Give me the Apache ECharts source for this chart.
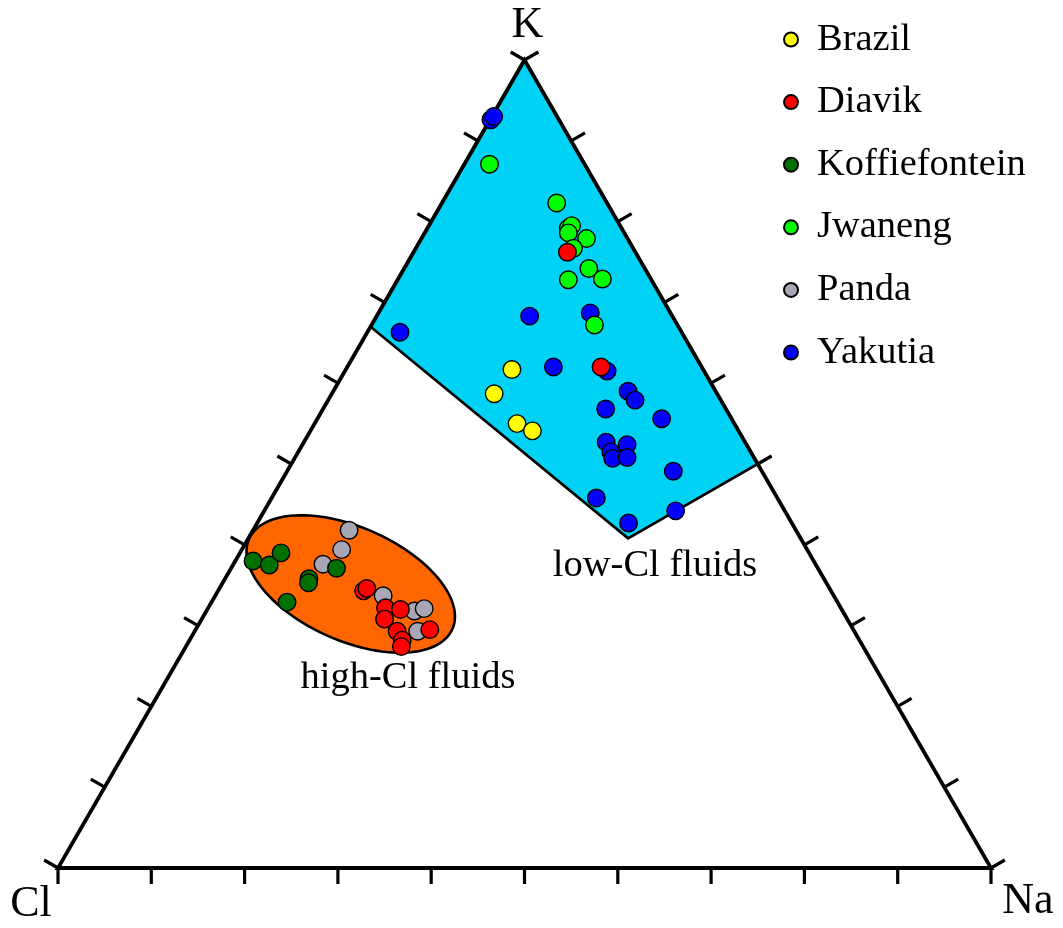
<!DOCTYPE html>
<html>
<head>
<meta charset="utf-8">
<script src="https://cdn.jsdelivr.net/npm/echarts@6/dist/echarts.min.js"></script>
<style>
  html, body { margin: 0; padding: 0; background: #ffffff; }
  #chart { width: 1063px; height: 928px; }
</style>
</head>
<body>
<div id="chart"></div>
<script>
// Fluid compositions in mol %, given as [K, Na]; Cl = 100 - K - Na
const brazil = [[61.7, 17.8], [58.7, 17.4], [55.0, 21.7], [54.1, 23.8]];
const diavik = [
  [76.2, 16.5], [62.0, 27.2],
  [34.3, 15.6], [34.6, 15.8], [32.2, 19.0], [32.0, 20.7], [30.8, 19.6],
  [29.3, 21.7], [29.5, 25.1], [28.2, 22.8], [27.4, 23.1]
];
const koffiefontein = [[38.0, 1.9], [37.5, 3.9], [39.0, 4.4], [37.1, 11.3], [35.8, 9.0], [35.3, 9.2], [32.9, 8.1]];
const jwaneng = [
  [87.1, 2.7], [82.3, 12.3], [79.2, 15.1], [79.5, 15.3], [78.6, 15.4], [77.9, 17.7],
  [76.7, 16.9], [74.2, 19.8], [72.9, 21.9], [72.8, 18.3], [67.2, 23.9]
];
const panda = [[41.8, 10.3], [39.4, 10.7], [37.6, 9.6], [33.7, 18.0], [31.8, 22.3], [32.1, 23.2], [29.3, 23.9]];
const yakutia = [
  [92.6, 0.1], [93.0, 0.2], [66.3, 3.5], [68.3, 16.4], [68.7, 22.7], [62.0, 22.1],
  [61.5, 28.1], [59.0, 31.6], [57.9, 32.9], [56.8, 30.3], [55.6, 36.9], [52.7, 32.4],
  [52.4, 34.8], [51.5, 33.5], [50.7, 34.1], [50.8, 35.6], [49.1, 41.4], [45.8, 34.8],
  [44.2, 44.1], [42.7, 39.8]
];

const legendNames = ['Brazil', 'Diavik', 'Koffiefontein', 'Jwaneng', 'Panda', 'Yakutia'];
const vertexNames = { top: 'K', left: 'Cl', right: 'Na' };
const tickValues = [0, 10, 20, 30, 40, 50, 60, 70, 80, 90, 100];

// Field outlines, [K, Na] corners of the low-Cl field
const lowClField = [[100, 0], [67, 0], [40.8, 40.7], [50, 50]];
// High-Cl field: ellipse centre [K, Na], semi-axes (fraction of side), tilt in degrees
const highClCentre = [35.15, 13.8];
const highClAxes = [0.1192, 0.0608];
const highClTilt = -23.9;

const H = Math.sqrt(3) / 2;
const SERIF = '"Liberation Serif", "Times New Roman", serif';

// ternary [K, Na] (percent) -> cartesian, side length 1, Cl at the origin
function toXY(k, na) {
  return [(na + k / 2) / 100, (k / 100) * H];
}

function scatter(name, rows, color) {
  return {
    type: 'scatter',
    name: name,
    data: rows.map(r => toXY(r[0], r[1])),
    symbol: 'circle',
    symbolSize: 17.5,
    z: 5,
    itemStyle: { color: color, borderColor: '#000', borderWidth: 1.4, opacity: 1 },
    emphasis: { disabled: true }
  };
}

const TICK = 16;

function frameItem(params, api) {
  const P = (k, na) => api.coord(toXY(k, na));
  const top = P(100, 0), left = P(0, 0), right = P(0, 100);
  const children = [{
    type: 'polygon',
    shape: { points: [top, left, right] },
    style: { fill: null, stroke: '#000', lineWidth: 3.8, lineJoin: 'miter' }
  }];
  const tick = (a, b) => ({
    type: 'line',
    shape: { x1: a[0], y1: a[1], x2: b[0], y2: b[1] },
    style: { stroke: '#000', lineWidth: 3.2 }
  });
  tickValues.forEach(t => {
    const b = P(0, t);
    children.push(tick(b, [b[0], b[1] + TICK]));
    const l = P(t, 0);
    children.push(tick(l, [l[0] - TICK * 0.866, l[1] - TICK * 0.5]));
    const r = P(t, 100 - t);
    children.push(tick(r, [r[0] + TICK * 0.866, r[1] - TICK * 0.5]));
  });
  return { type: 'group', children: children };
}

function lowClItem(params, api) {
  return {
    type: 'polygon',
    shape: { points: lowClField.map(v => api.coord(toXY(v[0], v[1]))) },
    style: { fill: '#00d2f5', stroke: '#000', lineWidth: 2.6, lineJoin: 'miter' }
  };
}

function highClItem(params, api) {
  const c = toXY(highClCentre[0], highClCentre[1]);
  const th = highClTilt * Math.PI / 180;
  const pts = [];
  for (let i = 0; i < 120; i++) {
    const f = (i / 120) * Math.PI * 2;
    const u = highClAxes[0] * Math.cos(f), v = highClAxes[1] * Math.sin(f);
    pts.push(api.coord([c[0] + u * Math.cos(th) - v * Math.sin(th), c[1] + u * Math.sin(th) + v * Math.cos(th)]));
  }
  return {
    type: 'polygon',
    shape: { points: pts },
    style: { fill: '#ff6600', stroke: '#000', lineWidth: 2.6 }
  };
}

const chart = echarts.init(document.getElementById('chart'), null, { renderer: 'canvas' });

chart.setOption({
  animation: false,
  backgroundColor: '#ffffff',
  grid: { left: 58, top: 60, width: 933, height: 808, containLabel: false },
  xAxis: { type: 'value', min: 0, max: 1, show: false },
  yAxis: { type: 'value', min: 0, max: H, show: false },
  legend: {
    data: legendNames,
    orient: 'vertical',
    left: 783,
    top: 20,
    padding: 0,
    itemWidth: 42,
    itemHeight: 14,
    itemGap: 23.6,
    selectedMode: false,
    textStyle: { fontFamily: SERIF, fontSize: 38.5, lineHeight: 38, color: '#000' }
  },
  series: [
    { type: 'custom', name: 'low-Cl field', coordinateSystem: 'cartesian2d', data: [[0, 0]], renderItem: lowClItem, z: 1, silent: true },
    { type: 'custom', name: 'high-Cl field', coordinateSystem: 'cartesian2d', data: [[0, 0]], renderItem: highClItem, z: 1, silent: true },
    { type: 'custom', name: 'frame', coordinateSystem: 'cartesian2d', data: [[0, 0]], renderItem: frameItem, z: 3, silent: true },
    scatter('Yakutia', yakutia, '#0000ff'),
    scatter('Panda', panda, '#a6a6b4'),
    scatter('Koffiefontein', koffiefontein, '#007000'),
    scatter('Jwaneng', jwaneng, '#00ff00'),
    scatter('Diavik', diavik, '#ff0000'),
    scatter('Brazil', brazil, '#ffff00')
  ],
  graphic: [
    { type: 'text', x: 527.5, y: 25, z: 10, style: { text: vertexNames.top, font: '44px ' + SERIF, fill: '#000', align: 'center', verticalAlign: 'middle' } },
    { type: 'text', x: 31, y: 904, z: 10, style: { text: vertexNames.left, font: '44px ' + SERIF, fill: '#000', align: 'center', verticalAlign: 'middle' } },
    { type: 'text', x: 1028, y: 901.5, z: 10, style: { text: vertexNames.right, font: '44px ' + SERIF, fill: '#000', align: 'center', verticalAlign: 'middle' } },
    { type: 'text', x: 655, y: 566, z: 10, style: { text: 'low-Cl fluids', font: '38.5px ' + SERIF, fill: '#000', align: 'center', verticalAlign: 'middle' } },
    { type: 'text', x: 408, y: 678, z: 10, style: { text: 'high-Cl fluids', font: '38.5px ' + SERIF, fill: '#000', align: 'center', verticalAlign: 'middle' } }
  ]
});
</script>
</body>
</html>
